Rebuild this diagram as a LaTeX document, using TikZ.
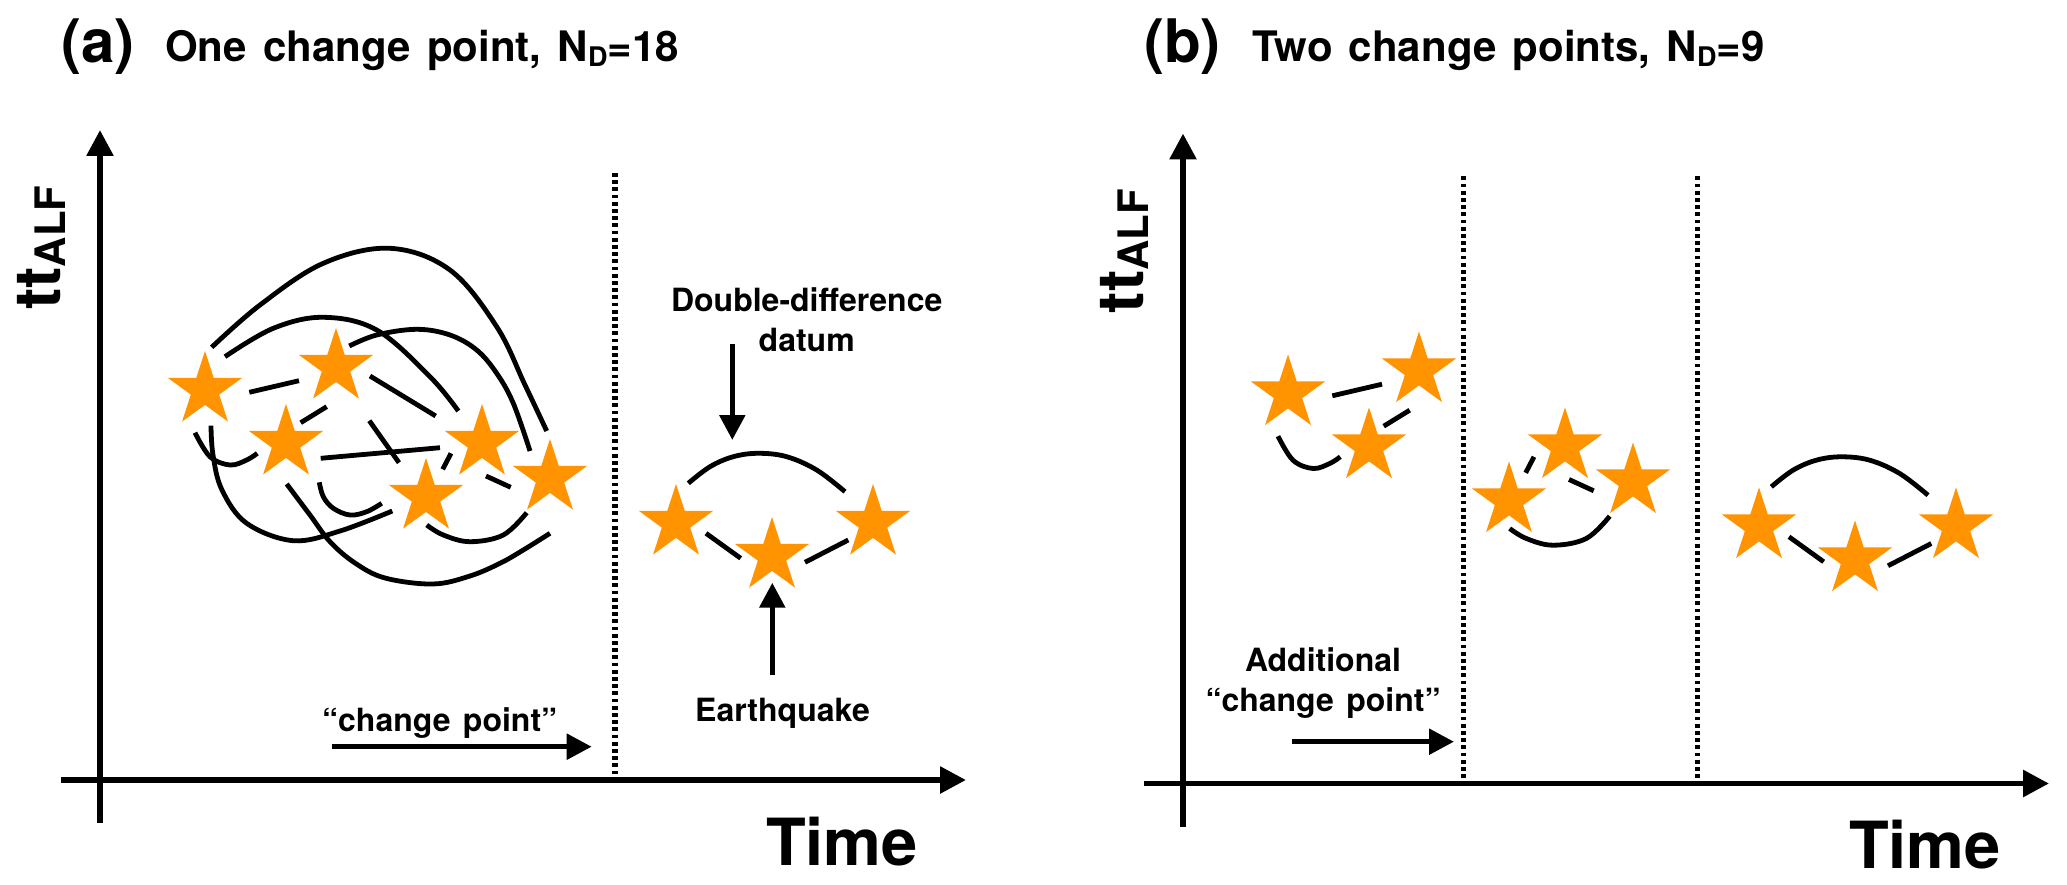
\documentclass[tikz,border=0pt]{standalone}
\usepackage{fontspec}
\setmainfont{TeX Gyre Heros}[WordSpace=1.4]
\usetikzlibrary{shapes.geometric,arrows.meta}
\definecolor{starorange}{RGB}{255,147,0}
\tikzset{
  eq/.style={star, star points=5, star point ratio=2.618, fill=starorange,
    minimum size=78pt, inner sep=0pt, outer sep=0pt},
  link/.style={line width=4.8pt},
  axisline/.style={line width=5.8pt, -{Triangle[length=26pt,width=26pt]}},
  pointer/.style={line width=5.4pt, -{Triangle[length=25pt,width=25pt]}},
  cpline/.style={line width=5.5pt, dash pattern=on 3.8pt off 3.4pt},
  lbl/.style={font=\bfseries\fontsize{32}{40}\selectfont, inner sep=0pt, anchor=base, align=center},
  ttlbig/.style={font=\bfseries\fontsize{60}{60}\selectfont, inner sep=0pt, anchor=base west},
  ttl/.style={font=\bfseries\fontsize{42}{42}\selectfont, inner sep=0pt, anchor=base west},
  timelbl/.style={font=\bfseries\fontsize{65}{65}\selectfont, inner sep=0pt, anchor=base},
  ylbl/.style={font=\bfseries\fontsize{64}{64}\selectfont, inner sep=0pt, anchor=base west, rotate=90}
}
\newcommand{\subD}{\raisebox{-0.1em}{\fontsize{27}{27}\selectfont D}}
\newcommand{\subALF}{\raisebox{-5pt}{\fontsize{42}{42}\selectfont ALF}}
\begin{document}
\begin{tikzpicture}[x=1pt,y=-1pt]
\fill[white] (0,0) rectangle (2067,885);
\useasboundingbox (0,0) rectangle (2067,885);

% ---------- titles ----------
\node[ttlbig] (labA) at (61,63) {(a)};
\node[ttl] (titA) at (165,62) {One change point, N\subD=18};
\node[ttlbig] (labB) at (1144,63) {(b)};
\node[ttl] (titB) at (1252,62) {Two change points, N\subD=9};

% ================= panel (a) =================
\begin{scope}
  \draw[axisline] (60.5,780) -- (966,780);
  \draw[axisline] (100,823) -- (100,130);
  \node[timelbl] (timeA) at (842,865) {Time};
  \node[ylbl] (yA) at (60,310) {tt\subALF};
  \draw[cpline] (615,173) -- (615,780);

  \node[eq] (S1) at (205,390) {};
  \node[eq] (S2) at (336,367) {};
  \node[eq] (S3) at (286,443) {};
  \node[eq] (S4) at (482,443) {};
  \node[eq] (S5) at (426,497) {};
  \node[eq] (S6) at (550,478) {};
  \node[eq] (S7) at (676,523) {};
  \node[eq] (S8) at (772,556) {};
  \node[eq] (S9) at (873,523) {};

  % straight double-difference data
  \draw[link] ([shift={(44.3,2.3)}]S1.center) -- ([shift={(-37,13.7)}]S2.center);
  \draw[link] ([shift={(14.7,-20.3)}]S3.center) -- ([shift={(-9.3,39.7)}]S2.center);
  \draw[link] ([shift={(34,9)}]S2.center) -- ([shift={(-46.3,-27)}]S4.center);
  \draw[link] ([shift={(33.3,53.7)}]S2.center) -- ([shift={(-27,-34.3)}]S5.center);
  \draw[link] ([shift={(34.7,15.3)}]S3.center) -- ([shift={(-42,4.7)}]S4.center);
  \draw[link] ([shift={(-31,10.3)}]S4.center) -- ([shift={(16.7,-27.7)}]S5.center);
  \draw[link] ([shift={(4,33)}]S4.center) -- ([shift={(-39.3,9.3)}]S6.center);
  \draw[link] ([shift={(30,10.3)}]S7.center) -- ([shift={(-31.3,2.3)}]S8.center);
  \draw[link] ([shift={(33,6.3)}]S8.center) -- ([shift={(-24.7,17)}]S9.center);

  % curved double-difference data
  \draw[link] plot[smooth,tension=0.6] coordinates {([shift={(6.7,-42.7)}]S1.center) (260,305) (323.3,263.3) (390,248.3) (450,270) (496.7,326.7) (525,385) ([shift={(-3.3,-47)}]S6.center)};
  \draw[link] plot[smooth,tension=0.6] coordinates {([shift={(20,-33.3)}]S1.center) (273.3,328.3) (323.3,317.3) (376.7,330) (430,376.7) ([shift={(-23.7,-32)}]S4.center)};
  \draw[link] plot[smooth,tension=0.6] coordinates {([shift={(13.3,-21)}]S2.center) (376.7,335) (416.7,329.3) (450,335) (476.7,350) (496.7,373.3) (513.3,403.3) ([shift={(-20,-27)}]S6.center)};
  \draw[link] plot[smooth,tension=0.6] coordinates {([shift={(-10,42.7)}]S1.center) (210,456.7) (230,465) (246.7,460) ([shift={(-28.7,10.3)}]S3.center)};
  \draw[link] plot[smooth,tension=0.6] coordinates {([shift={(6,35.7)}]S1.center) (213,455) (222,490) (246.7,523.3) (293.3,540.7) (340,531) ([shift={(-33.7,14)}]S5.center)};
  \draw[link] plot[smooth,tension=0.6] coordinates {([shift={(0.7,41)}]S3.center) (310,515) (330,541.7) (355,563) (385,578) (433,584) (470,576) (500,563.3) (523.3,550) ([shift={(0,55.3)}]S6.center)};
  \draw[link] plot[smooth,tension=0.6] coordinates {([shift={(33.3,39.3)}]S3.center) (323.3,496.7) (333.3,508.3) (350,515) (366.7,511.7) ([shift={(-44.3,6.3)}]S5.center)};
  \draw[link] plot[smooth,tension=0.6] coordinates {([shift={(0.7,28)}]S5.center) (443.3,535) (470,541.7) (503.3,535) ([shift={(-23.3,34.7)}]S6.center)};
  \draw[link] plot[smooth,tension=0.6] coordinates {([shift={(12.3,-39.7)}]S7.center) (710,466.7) (733.3,456.7) (758.3,453.3) (786.7,456.7) (816.7,470) ([shift={(-28,-31.3)}]S9.center)};

  % labels and pointers
  \node[lbl] (ddA) at (806.7,351.7) {Double-difference\\datum};
  \coordinate (ddtail) at (732.3,344);
  \coordinate (ddtip) at (732.3,440);
  \draw[pointer] (ddtail) -- (ddtip);
  \node[lbl] (eqA) at (782.5,721.7) {Earthquake};
  \coordinate (eqtail) at (772.3,675);
  \coordinate (eqtip) at (772.3,582.7);
  \draw[pointer] (eqtail) -- (eqtip);
  \node[lbl] (cpA) at (439.7,731.7) {“change point”};
  \coordinate (cpAtail) at (332.3,746.7);
  \coordinate (cpAtip) at (591.7,746.7);
  \draw[pointer] (cpAtail) -- (cpAtip);
\end{scope}

% ================= panel (b) =================
\begin{scope}[shift={(1083,3.5)}]
  \draw[axisline] (60.5,780) -- (966,780);
  \draw[axisline] (100,823) -- (100,130);
  \node[timelbl] (timeB) at (842,865) {Time};
  \node[ylbl] (yB) at (60,310) {tt\subALF};
  \draw[cpline] (380.3,173) -- (380.3,780);
  \draw[cpline] (614.7,173) -- (614.7,780);

  \node[eq] (B1) at (205,390) {};
  \node[eq] (B2) at (336,367) {};
  \node[eq] (B3) at (286,443) {};
  \node[eq] (B4) at (482,443) {};
  \node[eq] (B5) at (426,497) {};
  \node[eq] (B6) at (550,478) {};
  \node[eq] (B7) at (676,523) {};
  \node[eq] (B8) at (772,556) {};
  \node[eq] (B9) at (873,523) {};

  \draw[link] ([shift={(44.3,2.3)}]B1.center) -- ([shift={(-37,13.7)}]B2.center);
  \draw[link] ([shift={(14.7,-20.3)}]B3.center) -- ([shift={(-9.3,39.7)}]B2.center);
  \draw[link] plot[smooth,tension=0.6] coordinates {([shift={(-10,42.7)}]B1.center) (210,456.7) (230,465) (246.7,460) ([shift={(-28.7,10.3)}]B3.center)};

  \draw[link] ([shift={(-31,10.3)}]B4.center) -- ([shift={(16.7,-27.7)}]B5.center);
  \draw[link] ([shift={(4,33)}]B4.center) -- ([shift={(-39.3,9.3)}]B6.center);
  \draw[link] plot[smooth,tension=0.6] coordinates {([shift={(0.7,28)}]B5.center) (443.3,535) (470,541.7) (503.3,535) ([shift={(-23.3,34.7)}]B6.center)};

  \draw[link] ([shift={(30,10.3)}]B7.center) -- ([shift={(-31.3,2.3)}]B8.center);
  \draw[link] ([shift={(33,6.3)}]B8.center) -- ([shift={(-24.7,17)}]B9.center);
  \draw[link] plot[smooth,tension=0.6] coordinates {([shift={(12.3,-39.7)}]B7.center) (710,466.7) (733.3,456.7) (758.3,453.3) (786.7,456.7) (816.7,470) ([shift={(-28,-31.3)}]B9.center)};

  \node[lbl] (cpB) at (240,708.2) {Additional\\“change point”};
  \coordinate (cpBtail) at (209.3,738.2);
  \coordinate (cpBtip) at (371,738.2);
  \draw[pointer] (cpBtail) -- (cpBtip);
\end{scope}
\end{tikzpicture}
\end{document}
